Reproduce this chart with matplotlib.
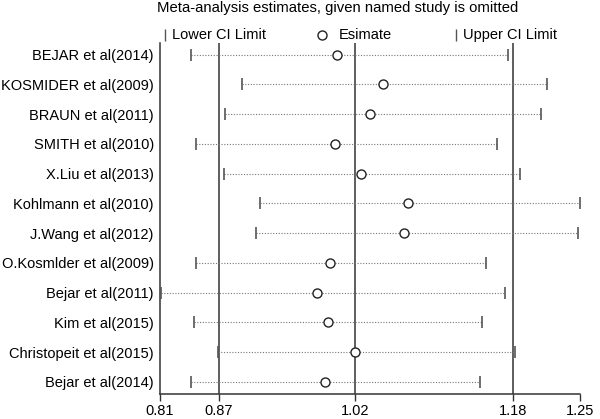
import matplotlib.pyplot as plt

plt.rcParams['font.family'] = ['Liberation Sans', 'DejaVu Sans']

# 한 연구씩 제외했을 때의 추정치
studies = ['BEJAR et al(2014)', 'KOSMIDER et al(2009)', 'BRAUN et al(2011)',
           'SMITH et al(2010)', 'X.Liu et al(2013)', 'Kohlmann et al(2010)',
           'J.Wang et al(2012)', 'O.Kosmlder et al(2009)', 'Bejar et al(2011)',
           'Kim et al(2015)', 'Christopeit et al(2015)', 'Bejar et al(2014)']
estimate = [0.995, 1.0436, 1.0303, 0.9933, 1.0202, 1.0694,
            1.0656, 0.9877, 0.974, 0.9856, 1.0143, 0.9829]
lower = [0.8425, 0.8962, 0.8784, 0.8477, 0.877, 0.9148,
         0.9106, 0.8473, 0.811, 0.846, 0.8703, 0.8425]
upper = [1.175, 1.215, 1.2092, 1.1634, 1.1872, 1.25,
         1.2479, 1.1515, 1.1718, 1.1477, 1.1822, 1.1456]

# 전체 추정치 (lower CI, estimate, upper CI)
ref_values = [0.8714, 1.0143, 1.1794]
xticks = [0.81, 0.8714, 1.0143, 1.1794, 1.25]
xticklabels = ['0.81', '0.87', '1.02', '1.18', '1.25']

fig = plt.figure(figsize=(6, 4.19), dpi=100)
ax = fig.add_axes([0.2667, 0.0597, 0.70, 0.8377])

ypos = list(range(1, len(studies) + 1))

for v in ref_values:
    ax.axvline(v, color='#333333', lw=1.1, zorder=1)

for y, lo, est, hi in zip(ypos, lower, estimate, upper):
    ax.plot([lo, hi], [y, y], ls=(0, (1, 1.5)), color='#777777', lw=0.8, zorder=2)
    ax.plot([lo, hi], [y, y], ls='none', marker='|', ms=9, mew=1.2,
            color='#555555', zorder=3)
ax.plot(estimate, ypos, ls='none', marker='o', ms=6.5, mfc='white',
        mec='#222222', mew=1.0, zorder=4)

ax.set_xlim(0.81, 1.25)
ax.set_ylim(12.41, 0.61)
ax.set_yticks(ypos)
ax.set_yticklabels(studies, fontsize=10.5)
ax.tick_params(axis='y', length=0, pad=4.5)
ax.set_xticks(xticks)
ax.set_xticklabels(xticklabels, fontsize=10.5)
ax.tick_params(axis='x', length=5, width=1, color='#333333', pad=2)

ax.spines['top'].set_visible(False)
ax.spines['right'].set_visible(False)
for s in ['left', 'bottom']:
    ax.spines[s].set_color('#333333')
    ax.spines[s].set_linewidth(1.1)

# 제목과 범례
fig.text(157 / 600, 1 - 8 / 419, 'Meta-analysis estimates, given named study is omitted',
         fontsize=10.7, ha='left', va='center')

ly = 1 - 35 / 419
leg = fig.add_axes([0, 0, 1, 1], facecolor='none')
leg.set_axis_off()
leg.set_xlim(0, 1)
leg.set_ylim(0, 1)
leg.plot([165 / 600], [ly], marker='|', ms=9, color='#555555', mew=1)
leg.plot([322 / 600], [ly], marker='o', ms=6.5, mfc='white', mec='#222222', mew=1)
leg.plot([456 / 600], [ly], marker='|', ms=9, color='#555555', mew=1)
leg.text(172 / 600, ly, 'Lower CI Limit', fontsize=10.5, va='center')
leg.text(339 / 600, ly, 'Esimate', fontsize=10.5, va='center')
leg.text(463 / 600, ly, 'Upper CI Limit', fontsize=10.5, va='center')

plt.savefig('out.png', dpi=100)
